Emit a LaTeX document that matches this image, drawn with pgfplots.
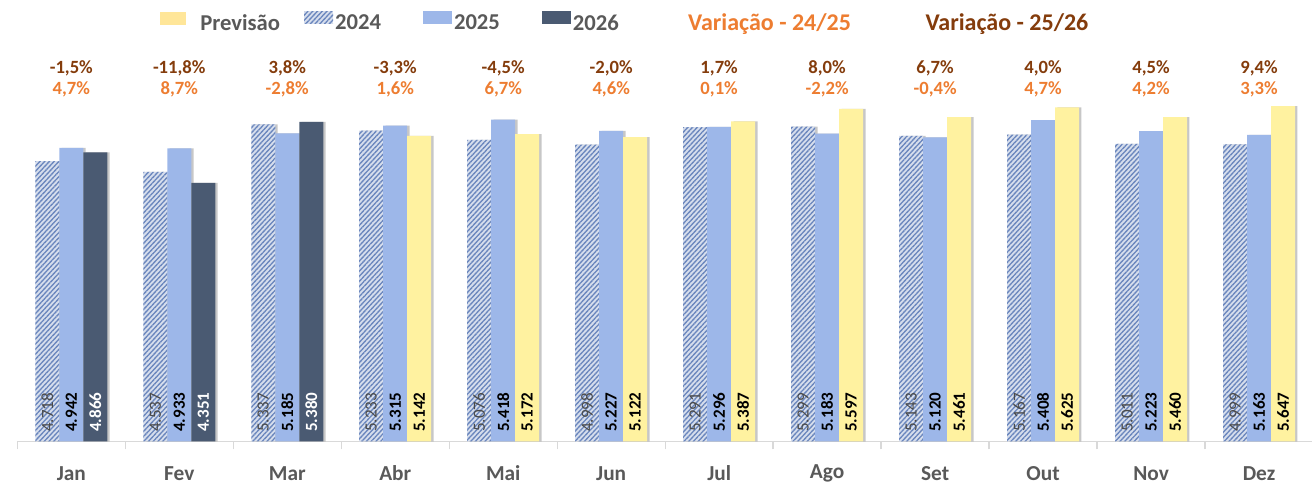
\documentclass[border=0pt]{standalone}
\usepackage{pgfplots}
\pgfplotsset{compat=1.18}
\usepackage{fontspec}
\setmainfont{Carlito}
\usetikzlibrary{patterns.meta}
\definecolor{cPrev}{HTML}{FFF2A0}
\definecolor{cPrevLeg}{HTML}{FFE699}
\definecolor{c24bg}{HTML}{D6DEED}
\definecolor{c24ln}{HTML}{6A86BD}
\definecolor{c25}{HTML}{9DB7E9}
\definecolor{c26}{HTML}{4A5A72}
\definecolor{cOr}{HTML}{ED7D31}
\definecolor{cBr}{HTML}{843C0C}
\definecolor{cTxt}{HTML}{595959}
\definecolor{cLab}{HTML}{4A4A4A}
\definecolor{cGrid}{HTML}{D9D9D9}
\pgfplotsset{
  barlab/.style={nodes near coords, point meta=explicit symbolic,
    visualization depends on=rawy \as \rawy,
    every node near coord/.append style={shift={(axis direction cs:0,-\rawy)}, xshift=#1, yshift=7pt, rotate=90, anchor=west, inner sep=0pt}},
  shad/.style={preaction={fill=black, opacity=0.22, transform canvas={xshift=1.8pt}}},
  mybar/.style={ybar, bar width=18pt, draw=none, forget plot, shad},
  pct/.style={draw=none, mark=none, forget plot, nodes near coords, point meta=explicit symbolic,
    every node near coord/.append style={anchor=center, inner sep=0pt, text=#1, font=\fontsize{14}{16}\selectfont\bfseries}},
}
\begin{document}
\begin{tikzpicture}
\begin{axis}[
  name=ax,
  scale only axis, width=972pt, height=267.3pt,
  xmin=-0.5, xmax=11.5, ymin=0, ymax=6000,
  clip=false,
  axis x line*=bottom, axis y line=none,
  x axis line style={draw=cGrid, line width=1pt, -},
  xtick={0,...,11},
  xticklabels={Jan,Fev,Mar,Abr,Mai,Jun,Jul,Ago,Set,Out,Nov,Dez},
  minor xtick={-0.5,0.5,...,11.5},
  major tick length=0pt, minor tick length=6pt, tick align=outside,
  minor tick style={draw=cGrid, line width=1pt},
  xticklabel style={font=\fontsize{16}{18}\selectfont\bfseries, text=cTxt, anchor=center, yshift=-24pt},
  ytick={1000,2000,3000,4000,5000,6000}, yticklabels={},
  ymajorgrids, grid style={draw=cGrid, line width=0.8pt, dash pattern=on 1.2pt off 1.2pt},
  legend columns=6,
  legend style={at={(0.1101,1.177)}, anchor=west, draw=none, fill=none, inner sep=0pt,
    column sep=0pt, nodes={inner sep=0pt, text=cTxt, font=\fontsize{17}{19}\selectfont\bfseries}},
]
% 2024
\addplot[mybar, bar shift=-18pt, fill=c24bg,
  postaction={pattern={Lines[angle=47,distance=2.6pt,line width=1pt]}, pattern color=c24ln},
  barlab=-18pt, every node near coord/.append style={text=cLab, font=\fontsize{12.8}{14}\selectfont\mdseries}]
  coordinates {(0,4718)[4.718] (1,4537)[4.537] (2,5337)[5.337] (3,5233)[5.233] (4,5076)[5.076] (5,4998)[4.998]
  (6,5291)[5.291] (7,5299)[5.299] (8,5143)[5.143] (9,5167)[5.167] (10,5011)[5.011] (11,4999)[4.999]};
% 2025
\addplot[mybar, bar shift=0pt, fill=c25, barlab=0pt, every node near coord/.append style={text=black, font=\fontsize{12.8}{14}\selectfont\bfseries}]
  coordinates {(0,4942)[4.942] (1,4933)[4.933] (2,5185)[5.185] (3,5315)[5.315] (4,5418)[5.418] (5,5227)[5.227]
  (6,5296)[5.296] (7,5183)[5.183] (8,5120)[5.120] (9,5408)[5.408] (10,5223)[5.223] (11,5163)[5.163]};
% 2026
\addplot[mybar, bar shift=18pt, fill=c26, barlab=18pt, every node near coord/.append style={text=white, font=\fontsize{12.8}{14}\selectfont\bfseries}]
  coordinates {(0,4866)[4.866] (1,4351)[4.351] (2,5380)[5.380]};
% Previsao
\addplot[mybar, bar shift=18pt, fill=cPrev, barlab=18pt, every node near coord/.append style={text=black, font=\fontsize{12.8}{14}\selectfont\bfseries}]
  coordinates {(3,5142)[5.142] (4,5172)[5.172] (5,5122)[5.122] (6,5387)[5.387] (7,5597)[5.597] (8,5461)[5.461]
  (9,5625)[5.625] (10,5460)[5.460] (11,5647)[5.647]};
% Variacao 24/25
\addplot[pct=cOr] coordinates {(0,5934)[4,7\%] (1,5934)[8,7\%] (2,5934)[-2,8\%] (3,5934)[1,6\%] (4,5934)[6,7\%] (5,5934)[4,6\%]
  (6,5934)[0,1\%] (7,5934)[-2,2\%] (8,5934)[-0,4\%] (9,5934)[4,7\%] (10,5934)[4,2\%] (11,5934)[3,3\%]};
% Variacao 25/26
\addplot[pct=cBr] coordinates {(0,6288)[-1,5\%] (1,6288)[-11,8\%] (2,6288)[3,8\%] (3,6288)[-3,3\%] (4,6288)[-4,5\%] (5,6288)[-2,0\%]
  (6,6288)[1,7\%] (7,6288)[8,0\%] (8,6288)[6,7\%] (9,6288)[4,0\%] (10,6288)[4,5\%] (11,6288)[9,4\%]};
% legend
\addlegendimage{legend image code/.code={\path[draw=none] (0,0) -- (30pt,0); \fill[cPrevLeg, draw=none] (0,-1pt) rectangle (19.5pt,8.5pt);}}
\addlegendentry{Previsão}
\addlegendimage{legend image code/.code={\path[draw=none] (0,0) -- (41.25pt,0); \fill[c24bg, draw=none] (18pt,-0.5pt) rectangle (39.75pt,9pt);
  \fill[draw=none, pattern={Lines[angle=47,distance=2.6pt,line width=1pt]}, pattern color=c24ln] (18pt,-0.5pt) rectangle (39.75pt,9pt);}}
\addlegendentry{2024}
\addlegendimage{legend image code/.code={\path[draw=none] (0,0) -- (54.75pt,0); \fill[c25, draw=none] (31.5pt,-0.5pt) rectangle (53.25pt,9pt);}}
\addlegendentry{2025}
\addlegendimage{legend image code/.code={\path[draw=none] (0,0) -- (54.75pt,0); \fill[c26, draw=none] (31.5pt,-0.5pt) rectangle (53.25pt,9pt);}}
\addlegendentry{2026}
\addlegendimage{legend image code/.code={\path[draw=none] (0,0) -- (52pt,0);}}
\addlegendentry{\textcolor{cOr}{\fontsize{18}{19}\selectfont Variação - 24/25}}
\addlegendimage{legend image code/.code={\path[draw=none] (0,0) -- (56pt,0);}}
\addlegendentry{\textcolor{cBr}{\fontsize{18}{19}\selectfont Variação - 25/26}}
\end{axis}
\pgfresetboundingbox
\path[use as bounding box] ([xshift=-13pt,yshift=-35.6pt]ax.south west) rectangle ([xshift=-0.75pt,yshift=63.8pt]ax.north east);
\end{tikzpicture}
\end{document}
